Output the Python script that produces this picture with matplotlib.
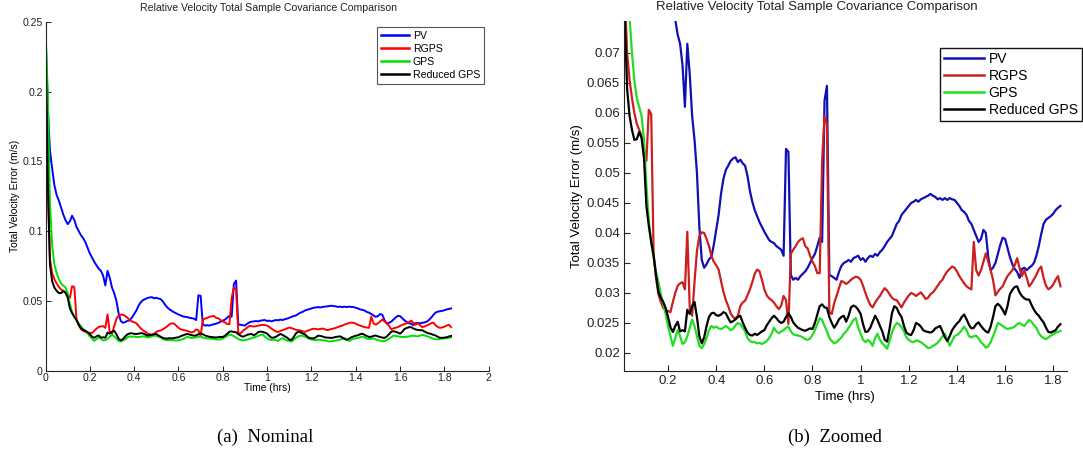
import numpy as np
import matplotlib
matplotlib.use("Agg")
import matplotlib.pyplot as plt

# ---------------- data ----------------
t = np.round(np.arange(0, 184) * 0.01, 2)   # time (hrs), 0.00 .. 1.83

pv = [0.245, 0.19, 0.158, 0.145, 0.133, 0.126, 0.122, 0.117, 0.112, 0.108,
      0.105, 0.107, 0.111, 0.108, 0.103, 0.100, 0.097, 0.095, 0.092, 0.088,
      0.084, 0.081, 0.078, 0.0755, 0.073, 0.0715, 0.068, 0.061, 0.0715, 0.0665,
      0.0595, 0.0555, 0.050, 0.041, 0.0355, 0.0342, 0.0348, 0.0356, 0.036, 0.038,
      0.0405, 0.043, 0.0465, 0.049, 0.0505, 0.0512, 0.052, 0.0524, 0.0526, 0.0518,
      0.0522, 0.0516, 0.0512, 0.0495, 0.047, 0.0452, 0.0438, 0.0428, 0.0418, 0.041,
      0.0402, 0.0395, 0.0388, 0.0385, 0.0383, 0.0378, 0.0375, 0.0372, 0.0362, 0.054,
      0.0535, 0.033, 0.0322, 0.0325, 0.0322, 0.0328, 0.0332, 0.0336, 0.0342, 0.035,
      0.0358, 0.0365, 0.0378, 0.0392, 0.0385, 0.062, 0.0645, 0.033, 0.0328, 0.0325,
      0.0322, 0.0335, 0.0345, 0.035, 0.0352, 0.0355, 0.0352, 0.0358, 0.036, 0.0362,
      0.0355, 0.0358, 0.0352, 0.0358, 0.0362, 0.036, 0.0365, 0.0362, 0.0368, 0.0372,
      0.0378, 0.0385, 0.039, 0.0395, 0.0405, 0.0415, 0.042, 0.043, 0.0435, 0.044,
      0.0445, 0.045, 0.0452, 0.0455, 0.0452, 0.0456, 0.0458, 0.046, 0.0462, 0.0465,
      0.0462, 0.046, 0.0456, 0.0458, 0.0455, 0.0458, 0.0455, 0.0458, 0.0456, 0.0455,
      0.045, 0.0445, 0.0438, 0.0435, 0.043, 0.042, 0.0415, 0.0405, 0.0395, 0.0385,
      0.039, 0.0405, 0.040, 0.036, 0.0338, 0.0342, 0.035, 0.0365, 0.038, 0.0392,
      0.039, 0.0375, 0.036, 0.0348, 0.034, 0.0335, 0.0325, 0.034, 0.0342, 0.0338,
      0.0342, 0.0345, 0.035, 0.0362, 0.0378, 0.0398, 0.0415, 0.0422, 0.0425, 0.0428,
      0.0432, 0.0438, 0.0442, 0.0445]

rgps = [0.245, 0.13, 0.08, 0.07, 0.0655, 0.0625, 0.06, 0.0582, 0.0572, 0.0562,
        0.054, 0.052, 0.0605, 0.0598, 0.0365, 0.0325, 0.0298, 0.0285, 0.0275, 0.0271,
        0.027, 0.0268, 0.0285, 0.030, 0.0312, 0.0316, 0.0318, 0.0306, 0.0402, 0.0275,
        0.0262, 0.0318, 0.037, 0.0395, 0.0401, 0.040, 0.039, 0.0378, 0.0362, 0.0352,
        0.0346, 0.0339, 0.032, 0.0302, 0.0288, 0.0278, 0.0266, 0.026, 0.0257, 0.0262,
        0.0278, 0.0284, 0.0287, 0.0296, 0.0306, 0.0318, 0.0332, 0.0339, 0.0336, 0.0322,
        0.0306, 0.0296, 0.0291, 0.0288, 0.0284, 0.0278, 0.0273, 0.0279, 0.0295, 0.0288,
        0.0248, 0.0365, 0.0372, 0.0378, 0.0385, 0.0389, 0.0391, 0.0378, 0.0374, 0.0362,
        0.0352, 0.0345, 0.0333, 0.0333, 0.052, 0.0595, 0.058, 0.0268, 0.0265, 0.0283,
        0.0295, 0.0308, 0.032, 0.0318, 0.0315, 0.0318, 0.0322, 0.0325, 0.0327, 0.0326,
        0.0322, 0.0312, 0.0300, 0.0289, 0.028, 0.0276, 0.0284, 0.029, 0.0295, 0.0302,
        0.0308, 0.0304, 0.0298, 0.0292, 0.0289, 0.0288, 0.0282, 0.0276, 0.0284, 0.029,
        0.0296, 0.030, 0.0298, 0.0295, 0.0298, 0.0301, 0.0296, 0.029, 0.0292, 0.0298,
        0.0301, 0.0306, 0.0312, 0.0318, 0.0322, 0.033, 0.0336, 0.034, 0.0344, 0.0342,
        0.0336, 0.0328, 0.0322, 0.0316, 0.0311, 0.0308, 0.0306, 0.0385, 0.0338, 0.0329,
        0.0338, 0.0352, 0.0366, 0.0352, 0.0338, 0.0322, 0.0296, 0.0302, 0.0307, 0.0311,
        0.032, 0.0328, 0.0333, 0.0338, 0.0346, 0.0358, 0.0342, 0.0328, 0.0338, 0.0325,
        0.0311, 0.0316, 0.0323, 0.033, 0.0339, 0.0344, 0.0325, 0.0312, 0.0306, 0.0309,
        0.0314, 0.0322, 0.0328, 0.0311]

gps = [0.245, 0.20, 0.12, 0.09, 0.076, 0.070, 0.0655, 0.0625, 0.061, 0.0595,
       0.0555, 0.048, 0.042, 0.0385, 0.036, 0.0335, 0.0318, 0.0298, 0.0282, 0.0265,
       0.0245, 0.0228, 0.0212, 0.0225, 0.0238, 0.0228, 0.0215, 0.0218, 0.0228, 0.0242,
       0.0256, 0.0245, 0.0228, 0.0212, 0.0208, 0.0215, 0.0225, 0.0238, 0.0245, 0.0242,
       0.0244, 0.0241, 0.024, 0.0242, 0.0245, 0.0242, 0.0238, 0.024, 0.0246, 0.025,
       0.0248, 0.0242, 0.0236, 0.0225, 0.022, 0.0218, 0.0218, 0.0216, 0.0217, 0.0215,
       0.0217, 0.022, 0.0225, 0.0232, 0.0242, 0.0236, 0.0233, 0.0236, 0.0238, 0.0242,
       0.0244, 0.0236, 0.0231, 0.023, 0.0229, 0.0228, 0.0226, 0.0223, 0.0222, 0.0224,
       0.023, 0.0238, 0.0248, 0.0258, 0.0255, 0.0245, 0.0236, 0.0225, 0.022, 0.0216,
       0.0218, 0.0222, 0.0226, 0.0232, 0.0236, 0.0242, 0.0248, 0.0255, 0.0258, 0.0242,
       0.0232, 0.0222, 0.0218, 0.0222, 0.0218, 0.0212, 0.0225, 0.0232, 0.0222, 0.0216,
       0.0212, 0.0207, 0.022, 0.0234, 0.0244, 0.025, 0.0248, 0.0243, 0.0236, 0.0226,
       0.0222, 0.0219, 0.0218, 0.0221, 0.022, 0.0218, 0.0215, 0.0212, 0.0208, 0.0209,
       0.0212, 0.0214, 0.0217, 0.0222, 0.0228, 0.0232, 0.0222, 0.0212, 0.022, 0.0228,
       0.023, 0.0233, 0.0238, 0.0244, 0.0238, 0.0228, 0.0226, 0.0228, 0.0229, 0.0224,
       0.0218, 0.0214, 0.0209, 0.0211, 0.0218, 0.0228, 0.0238, 0.025, 0.0248, 0.0245,
       0.0242, 0.024, 0.0241, 0.0242, 0.0244, 0.0248, 0.025, 0.0247, 0.0245, 0.025,
       0.0255, 0.0252, 0.0246, 0.0242, 0.0233, 0.0228, 0.0225, 0.0223, 0.0226, 0.0229,
       0.0231, 0.0234, 0.0235, 0.0237]

reduced_gps = [0.245, 0.14, 0.076, 0.064, 0.0595, 0.0572, 0.0555, 0.0556, 0.0568, 0.0558,
               0.0525, 0.0445, 0.0412, 0.0385, 0.0362, 0.033, 0.0302, 0.0292, 0.0285, 0.0275,
               0.026, 0.0243, 0.0235, 0.0245, 0.0252, 0.0236, 0.0238, 0.0236, 0.0272, 0.0265,
               0.0278, 0.0285, 0.026, 0.0228, 0.0216, 0.0226, 0.0245, 0.026, 0.0266, 0.0267,
               0.0263, 0.0262, 0.0264, 0.0268, 0.0266, 0.0258, 0.0251, 0.0253, 0.0256, 0.026,
               0.0262, 0.0251, 0.0242, 0.0234, 0.023, 0.0229, 0.0232, 0.023, 0.0233, 0.0236,
               0.0238, 0.0246, 0.0252, 0.0258, 0.0262, 0.0258, 0.0253, 0.025, 0.0252, 0.026,
               0.0266, 0.026, 0.0251, 0.0246, 0.0242, 0.024, 0.0238, 0.0237, 0.0239, 0.0241,
               0.024, 0.025, 0.0264, 0.0278, 0.0281, 0.0276, 0.0275, 0.026, 0.025, 0.0242,
               0.0248, 0.0256, 0.026, 0.0262, 0.0252, 0.0262, 0.0276, 0.0279, 0.0277, 0.0272,
               0.0265, 0.0248, 0.0235, 0.0236, 0.0242, 0.0252, 0.0262, 0.0255, 0.0245, 0.0236,
               0.0222, 0.0219, 0.024, 0.0266, 0.0278, 0.0275, 0.0266, 0.026, 0.0245, 0.0234,
               0.0231, 0.023, 0.0238, 0.025, 0.0248, 0.0244, 0.0238, 0.0236, 0.0235, 0.0234,
               0.0236, 0.0241, 0.0243, 0.0245, 0.0236, 0.0226, 0.022, 0.0228, 0.0238, 0.0244,
               0.0249, 0.0253, 0.026, 0.0264, 0.0256, 0.0247, 0.0241, 0.0242, 0.0248, 0.0251,
               0.0245, 0.024, 0.0236, 0.0234, 0.0244, 0.026, 0.0278, 0.0282, 0.0278, 0.0272,
               0.0264, 0.0278, 0.0298, 0.0305, 0.031, 0.0311, 0.0301, 0.0295, 0.0291, 0.0289,
               0.0289, 0.028, 0.0272, 0.0266, 0.0262, 0.0256, 0.0251, 0.0242, 0.0235, 0.0234,
               0.0236, 0.0238, 0.0244, 0.0248]

series_names = ["PV", "RGPS", "GPS", "Reduced GPS"]
left_colors = ["#0000ff", "#ff0000", "#00e000", "#000000"]
right_colors = ["#1010b4", "#cc1f1f", "#22dd22", "#000000"]

left_xticks = [0, 0.2, 0.4, 0.6, 0.8, 1, 1.2, 1.4, 1.6, 1.8, 2]
left_xticklabels = ["0", "0.2", "0.4", "0.6", "0.8", "1", "1.2", "1.4", "1.6", "1.8", "2"]
left_yticks = [0, 0.05, 0.1, 0.15, 0.2, 0.25]
left_yticklabels = ["0", "0.05", "0.1", "0.15", "0.2", "0.25"]
right_xticks = [0.2, 0.4, 0.6, 0.8, 1, 1.2, 1.4, 1.6, 1.8]
right_xticklabels = ["0.2", "0.4", "0.6", "0.8", "1", "1.2", "1.4", "1.6", "1.8"]
right_yticks = [0.02, 0.025, 0.03, 0.035, 0.04, 0.045, 0.05, 0.055, 0.06, 0.065, 0.07]
right_yticklabels = ["0.02", "0.025", "0.03", "0.035", "0.04", "0.045", "0.05",
                     "0.055", "0.06", "0.065", "0.07"]

title_text = "Relative Velocity Total Sample Covariance Comparison"
xlabel_text = "Time (hrs)"
ylabel_text = "Total Velocity Error (m/s)"
captions = ["(a)  Nominal", "(b)  Zoomed"]

# ---------------- figure ----------------
W, H = 1083, 461
fig = plt.figure(figsize=(W / 100, H / 100), dpi=100)
plt.rcParams['font.family'] = ['Liberation Sans', 'DejaVu Sans']


def px_rect(x0, y0, x1, y1):
    return [x0 / W, 1 - y1 / H, (x1 - x0) / W, (y1 - y0) / H]


axL = fig.add_axes(px_rect(45.5, 22, 488.7, 370.5))
axR = fig.add_axes(px_rect(624, 21, 1066.7, 371))

series = [pv, rgps, gps, reduced_gps]

for ax, cols, lw in [(axL, left_colors, 1.4), (axR, right_colors, 1.6)]:
    for vals, name, c in zip(series, series_names, cols):
        ax.plot(t, vals, color=c, lw=lw, label=name)
    for s in ["top", "right"]:
        ax.spines[s].set_visible(False)
    for s in ["left", "bottom"]:
        ax.spines[s].set_linewidth(0.8)
        ax.spines[s].set_color("#222222")

# left axes
axL.set_xlim(0, 2)
axL.set_ylim(0, 0.25)
axL.set_xticks(left_xticks, left_xticklabels)
axL.set_yticks(left_yticks, left_yticklabels)
axL.tick_params(direction="in", length=3.5, width=0.7, labelsize=7.6, pad=2,
                colors="#222222")
axL.set_xlabel(xlabel_text, fontsize=7.4, labelpad=-0.5)
axL.set_ylabel(ylabel_text, fontsize=7.4, labelpad=2)

# right axes
axR.set_xlim(0.017, 1.856)
axR.set_ylim(0.017, 0.0753)
axR.set_xticks(right_xticks, right_xticklabels)
axR.set_yticks(right_yticks, right_yticklabels)
axR.tick_params(direction="in", length=4, width=0.8, labelsize=9.5, pad=3,
                colors="#222222")
axR.set_xlabel(xlabel_text, fontsize=9.5, labelpad=3)
axR.set_ylabel(ylabel_text, fontsize=9.5, labelpad=3)

# titles
fig.text(268 / W, 1 - 8 / H, title_text, ha="center", va="center", fontsize=7.6,
         color="#222222")
fig.text(817 / W, 1 - 7 / H, title_text, ha="center", va="center", fontsize=9.5,
         color="#222222")

# legends
legL = axL.legend(loc="upper left", bbox_to_anchor=(377 / W, 1 - 27 / H),
                  bbox_transform=fig.transFigure, borderaxespad=0, fontsize=7.6,
                  handlelength=2.7, handletextpad=0.35, labelspacing=0.3,
                  borderpad=0.35, fancybox=False, framealpha=1)
legL.get_frame().set_edgecolor("#555555")
legL.get_frame().set_linewidth(0.8)
for ln in legL.get_lines():
    ln.set_linewidth(1.8)

legR = axR.legend(loc="upper left", bbox_to_anchor=(940 / W, 1 - 48 / H),
                  bbox_transform=fig.transFigure, borderaxespad=0, fontsize=10,
                  handlelength=2.9, handletextpad=0.3, labelspacing=0.22,
                  borderpad=0.3, fancybox=False, framealpha=1)
legR.get_frame().set_edgecolor("#111111")
legR.get_frame().set_linewidth(1.0)
for ln in legR.get_lines():
    ln.set_linewidth(1.8)

# captions
fig.text(265 / W, 1 - 437 / H, captions[0], ha="center", va="center",
         fontsize=13.5, family=["Liberation Serif", "DejaVu Serif"])
fig.text(835 / W, 1 - 437 / H, captions[1], ha="center", va="center",
         fontsize=13.5, family=["Liberation Serif", "DejaVu Serif"])

fig.savefig("out.png", dpi=100)
